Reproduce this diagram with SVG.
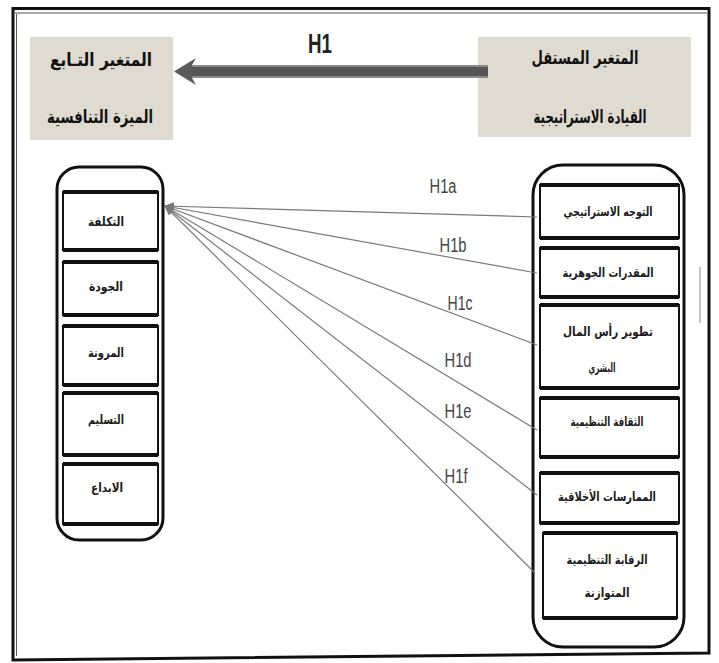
<svg xmlns="http://www.w3.org/2000/svg" width="719" height="663" viewBox="0 0 719 663">
<defs>
<style>
.frame{fill:none;stroke:#111;stroke-width:3}
.thin{fill:none;stroke:#555;stroke-width:1}
.head{fill:#e0dbd0}
.htxt{font-family:"DejaVu Sans",sans-serif;font-weight:bold;font-size:18px;fill:#111;text-anchor:middle}
.col{fill:#fff;stroke:#111;stroke-width:3}
.box{fill:#fff;stroke:#111;stroke-width:2}
.edge{stroke:#111;stroke-width:4}
.btxt{font-family:"DejaVu Sans",sans-serif;font-weight:bold;font-size:12.5px;fill:#1a1a1a;text-anchor:middle}
.conn{stroke:#7a7a7a;stroke-width:1.2;fill:none}
.lbl{font-family:"Liberation Sans",sans-serif;font-size:20px;fill:#444;text-anchor:middle}
</style>
<marker id="ah" viewBox="0 0 10 8" refX="9" refY="4" markerWidth="10" markerHeight="8" markerUnits="userSpaceOnUse" orient="auto">
<path d="M0,0 L10,4 L0,8 Z" fill="#777"/>
</marker>
</defs>
<rect width="719" height="663" fill="#fff"/>
<g id="frame">
<path class="frame" d="M13,8.5 H709 V653 L13,660 Z"/>
<line class="thin" x1="15" y1="13" x2="707" y2="13"/>
<line class="thin" x1="16.5" y1="14" x2="16.5" y2="656"/>
<line x1="700" y1="267" x2="700" y2="323" stroke="#888" stroke-width="1"/>
</g>
<g id="dependent-header">
<rect class="head" x="30" y="37" width="143" height="103"/>
<text class="htxt" x="101" y="66" textLength="102" lengthAdjust="spacingAndGlyphs">المتغير التـابع</text>
<text class="htxt" x="100" y="123" textLength="106" lengthAdjust="spacingAndGlyphs">الميزة التنافسية</text>
</g>
<g id="independent-header">
<rect class="head" x="478" y="37" width="213" height="100"/>
<text class="htxt" x="585" y="64" textLength="107" lengthAdjust="spacingAndGlyphs">المتغير المستقل</text>
<text class="htxt" x="590" y="123" textLength="113" lengthAdjust="spacingAndGlyphs">القيادة الاستراتيجية</text>
</g>
<g id="h1-arrow">
<rect x="192" y="65" width="296" height="13" fill="#8a8a8a"/>
<rect x="192" y="67" width="296" height="9" fill="#555"/>
<polygon points="174,71.5 196,58 192,65 192,78 196,85" fill="#5a5a5a"/>
<text x="320" y="53" font-family="Liberation Sans, sans-serif" font-weight="bold" font-size="28" fill="#222" text-anchor="middle" textLength="24" lengthAdjust="spacingAndGlyphs">H1</text>
</g>
<g id="dependent-column">
<rect class="col" x="57" y="167" width="106" height="373" rx="22"/>
<g id="cost"><rect class="box" x="63" y="192" width="95" height="58"/><line class="edge" x1="63" y1="192" x2="158" y2="192"/><line class="edge" x1="63" y1="250" x2="158" y2="250"/><text class="btxt" x="106" y="226" textLength="36" lengthAdjust="spacingAndGlyphs">التكلفة</text></g>
<g id="quality"><rect class="box" x="63" y="262" width="95" height="53"/><line class="edge" x1="63" y1="262" x2="158" y2="262"/><line class="edge" x1="63" y1="315" x2="158" y2="315"/><text class="btxt" x="106" y="291" textLength="34" lengthAdjust="spacingAndGlyphs">الجودة</text></g>
<g id="flexibility"><rect class="box" x="63" y="326" width="95" height="59"/><line class="edge" x1="63" y1="326" x2="158" y2="326"/><line class="edge" x1="63" y1="385" x2="158" y2="385"/><text class="btxt" x="106" y="357" textLength="36" lengthAdjust="spacingAndGlyphs">المرونة</text></g>
<g id="delivery"><rect class="box" x="63" y="393" width="95" height="62"/><line class="edge" x1="63" y1="393" x2="158" y2="393"/><line class="edge" x1="63" y1="455" x2="158" y2="455"/><text class="btxt" x="106" y="424" textLength="36" lengthAdjust="spacingAndGlyphs">التسليم</text></g>
<g id="innovation"><rect class="box" x="63" y="464" width="95" height="60"/><line class="edge" x1="63" y1="464" x2="158" y2="464"/><line class="edge" x1="63" y1="524" x2="158" y2="524"/><text class="btxt" x="107" y="492" textLength="32" lengthAdjust="spacingAndGlyphs">الابداع</text></g>
</g>
<g id="independent-column">
<rect class="col" x="533" y="165" width="151" height="482" rx="30"/>
<g id="strategic-direction"><rect class="box" x="540" y="185" width="139" height="53"/><line class="edge" x1="540" y1="185" x2="679" y2="185"/><line class="edge" x1="540" y1="238" x2="679" y2="238"/><text class="btxt" x="608" y="216" textLength="89" lengthAdjust="spacingAndGlyphs">التوجه الاستراتيجي</text></g>
<g id="core-competencies"><rect class="box" x="540" y="248" width="139" height="49"/><line class="edge" x1="540" y1="248" x2="679" y2="248"/><line class="edge" x1="540" y1="297" x2="679" y2="297"/><text class="btxt" x="608" y="277" textLength="91" lengthAdjust="spacingAndGlyphs">المقدرات الجوهرية</text></g>
<g id="human-capital"><rect class="box" x="540" y="305" width="139" height="83"/><line class="edge" x1="540" y1="305" x2="679" y2="305"/><line class="edge" x1="540" y1="388" x2="679" y2="388"/><text class="btxt" x="608" y="336" textLength="90" lengthAdjust="spacingAndGlyphs">تطوير رأس المال</text><text class="btxt" x="602" y="372" textLength="27" lengthAdjust="spacingAndGlyphs">البشري</text></g>
<g id="org-culture"><rect class="box" x="540" y="398" width="139" height="59"/><line class="edge" x1="540" y1="398" x2="679" y2="398"/><line class="edge" x1="540" y1="457" x2="679" y2="457"/><text class="btxt" x="607" y="426" textLength="73" lengthAdjust="spacingAndGlyphs">الثقافة التنظيمية</text></g>
<g id="ethical-practices"><rect class="box" x="540" y="473" width="139" height="50"/><line class="edge" x1="540" y1="473" x2="679" y2="473"/><line class="edge" x1="540" y1="523" x2="679" y2="523"/><text class="btxt" x="607" y="501" textLength="98" lengthAdjust="spacingAndGlyphs">الممارسات الأخلاقية</text></g>
<g id="balanced-control"><rect class="box" x="543" y="533" width="134" height="85"/><line class="edge" x1="543" y1="533" x2="677" y2="533"/><line class="edge" x1="543" y1="618" x2="677" y2="618"/><text class="btxt" x="607" y="564" textLength="81" lengthAdjust="spacingAndGlyphs">الرقابة التنظيمية</text><text class="btxt" x="607" y="597" textLength="45" lengthAdjust="spacingAndGlyphs">المتوازنة</text></g>
</g>
<g id="connectors">
<line class="conn" x1="537" y1="217" x2="165" y2="206" marker-end="url(#ah)"/>
<line class="conn" x1="537" y1="273" x2="165" y2="206" marker-end="url(#ah)"/>
<line class="conn" x1="537" y1="345" x2="165" y2="206" marker-end="url(#ah)"/>
<line class="conn" x1="537" y1="430" x2="165" y2="206" marker-end="url(#ah)"/>
<line class="conn" x1="537" y1="495" x2="165" y2="206" marker-end="url(#ah)"/>
<line class="conn" x1="535" y1="573" x2="165" y2="206" marker-end="url(#ah)"/>
<text class="lbl" x="443" y="193" textLength="27" lengthAdjust="spacingAndGlyphs">H1a</text>
<text class="lbl" x="453" y="252" textLength="27" lengthAdjust="spacingAndGlyphs">H1b</text>
<text class="lbl" x="460" y="310" textLength="25" lengthAdjust="spacingAndGlyphs">H1c</text>
<text class="lbl" x="458" y="367" textLength="27" lengthAdjust="spacingAndGlyphs">H1d</text>
<text class="lbl" x="458" y="418" textLength="27" lengthAdjust="spacingAndGlyphs">H1e</text>
<text class="lbl" x="456" y="483" textLength="23" lengthAdjust="spacingAndGlyphs">H1f</text>
</g>
</svg>
